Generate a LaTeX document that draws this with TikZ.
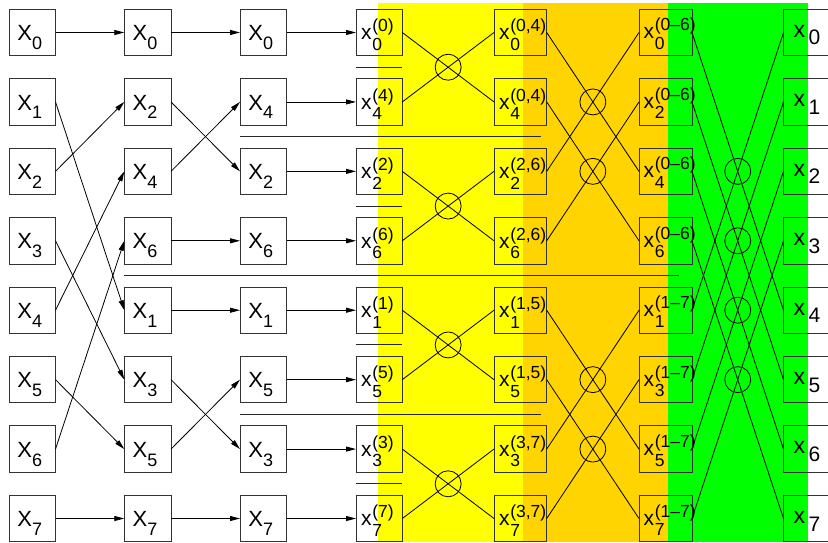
\documentclass[tikz,border=0pt]{standalone}
\usepackage{fontspec}
\setmainfont{Liberation Sans}
\usetikzlibrary{arrows.meta,calc}
\definecolor{myyellow}{RGB}{255,255,0}
\definecolor{myorange}{RGB}{255,212,0}
\definecolor{mygreen}{RGB}{0,255,0}
\newcommand\scf{\fontsize{17.5}{17.5}\selectfont}
\newcommand\capX[1]{{\fontsize{22}{22}\selectfont X}\raisebox{-8.8pt}{\fontsize{18}{18}\selectfont #1}}
\newcommand\lowx[2]{{\fontsize{21}{21}\selectfont x}\kern0.8pt\rlap{\raisebox{8pt}{\scf (#1)}}\raisebox{-10.5pt}{\scf #2}}
\newcommand\outx[1]{{\fontsize{23}{23}\selectfont x}\kern3.5pt\raisebox{-7.7pt}{\fontsize{21}{21}\selectfont #1}}
\begin{document}
\begin{tikzpicture}[x=1pt,y=1pt,
  box/.style={draw=black!80, line width=0.9pt, inner sep=0pt, outer sep=0pt, minimum height=46.4pt, anchor=west},
  lbl/.style={anchor=base west, inner sep=0pt, outer sep=0pt},
  arr/.style={line width=0.8pt, -{Triangle[length=10pt,width=5pt]}},
  wire/.style={line width=0.8pt},
  sep/.style={line width=0.9pt, black!85},
  ring/.style={draw, circle, minimum size=26pt, inner sep=0pt, line width=0.8pt}]
\useasboundingbox (0,0) rectangle (828,542);
% background bands
\fill[myyellow] (378,0) rectangle (523,538.7);
\fill[myorange] (523,0) rectangle (668,538.7);
\fill[mygreen] (668,0) rectangle (808,538.7);
% boxes
\foreach \c/\L/\W in {0/9/46.5, 1/124.3/46.7, 2/240/46.5, 3/356/46.3, 4/494/52.7, 5/639/53, 6/783.5/46.5}
  \foreach \r in {0,...,7}
    \node[box, minimum width=\W] (b\c\r) at (\L, {509.5-69.43*\r}) {};
% labels
\foreach \r/\d in {0/0,1/1,2/2,3/3,4/4,5/5,6/6,7/7}
  \node[lbl] (t0\r) at ($(b0\r.west)+(8.4,-8.2)$) {\capX{\d}};
\foreach \r/\d in {0/0,1/2,2/4,3/6,4/1,5/3,6/5,7/7}
  \node[lbl] (t1\r) at ($(b1\r.west)+(8.4,-8.2)$) {\capX{\d}};
\foreach \r/\d in {0/0,1/4,2/2,3/6,4/1,5/5,6/3,7/7}
  \node[lbl] (t2\r) at ($(b2\r.west)+(8.4,-8.2)$) {\capX{\d}};
\foreach \r/\d in {0/0,1/4,2/2,3/6,4/1,5/5,6/3,7/7}
  \node[lbl] (t3\r) at ($(b3\r.west)+(5,-7.3)$) {\lowx{\d}{\d}};
\foreach \r/\s/\d in {0/{0,4}/0,1/{0,4}/4,2/{2,6}/2,3/{2,6}/6,4/{1,5}/1,5/{1,5}/5,6/{3,7}/3,7/{3,7}/7}
  \node[lbl] (t4\r) at ($(b4\r.west)+(5,-7.3)$) {\lowx{\s}{\d}};
\foreach \r/\s/\d in {0/0--6/0,1/0--6/2,2/0--6/4,3/0--6/6,4/1--7/1,5/1--7/3,6/1--7/5,7/1--7/7}
  \node[lbl] (t5\r) at ($(b5\r.west)+(4.6,-6.5)$) {\lowx{\s}{\d}};
\foreach \r in {0,...,7}
  \node[lbl] (t6\r) at ($(b6\r.west)+(10,-4.8)$) {\outx{\r}};
% separator lines
\draw[sep] (356,474.75) -- (402.3,474.75);
\draw[sep] (240,405.3) -- (541,405.3);
\draw[sep] (356,335.7) -- (402.3,335.7);
\draw[sep] (124,266.7) -- (679,266.7);
\draw[sep] (356,197.3) -- (402.3,197.3);
\draw[sep] (240,127.7) -- (541,127.7);
\draw[sep] (356,59) -- (402.3,59);
% permutation arrows
\foreach \a/\b in {0/0,1/4,2/1,3/5,4/2,5/6,6/3,7/7}
  \draw[arr] (b0\a.east) -- (b1\b.west);
\foreach \a/\b in {0/0,1/2,2/1,3/3,4/4,5/6,6/5,7/7}
  \draw[arr] (b1\a.east) -- (b2\b.west);
\foreach \a in {0,...,7}
  \draw[arr] (b2\a.east) -- (b3\a.west);
% butterflies
\foreach \a/\b in {0/1,2/3,4/5,6/7}{
  \draw[wire] (b3\a.east) -- (b4\b.west);
  \draw[wire] (b3\b.east) -- (b4\a.west);
  \node[ring] (c3\a) at ($(b3\a.east)!0.5!(b4\b.west)$) {};
}
\foreach \a/\b in {0/2,1/3,4/6,5/7}{
  \draw[wire] (b4\a.east) -- (b5\b.west);
  \draw[wire] (b4\b.east) -- (b5\a.west);
  \node[ring] (c4\a) at ($(b4\a.east)!0.5!(b5\b.west)$) {};
}
\foreach \a/\b in {0/4,1/5,2/6,3/7}{
  \draw[wire] (b5\a.east) -- (b6\b.west);
  \draw[wire] (b5\b.east) -- (b6\a.west);
  \node[ring] (c5\a) at ($(b5\a.east)!0.5!(b6\b.west)$) {};
}
\end{tikzpicture}
\end{document}
